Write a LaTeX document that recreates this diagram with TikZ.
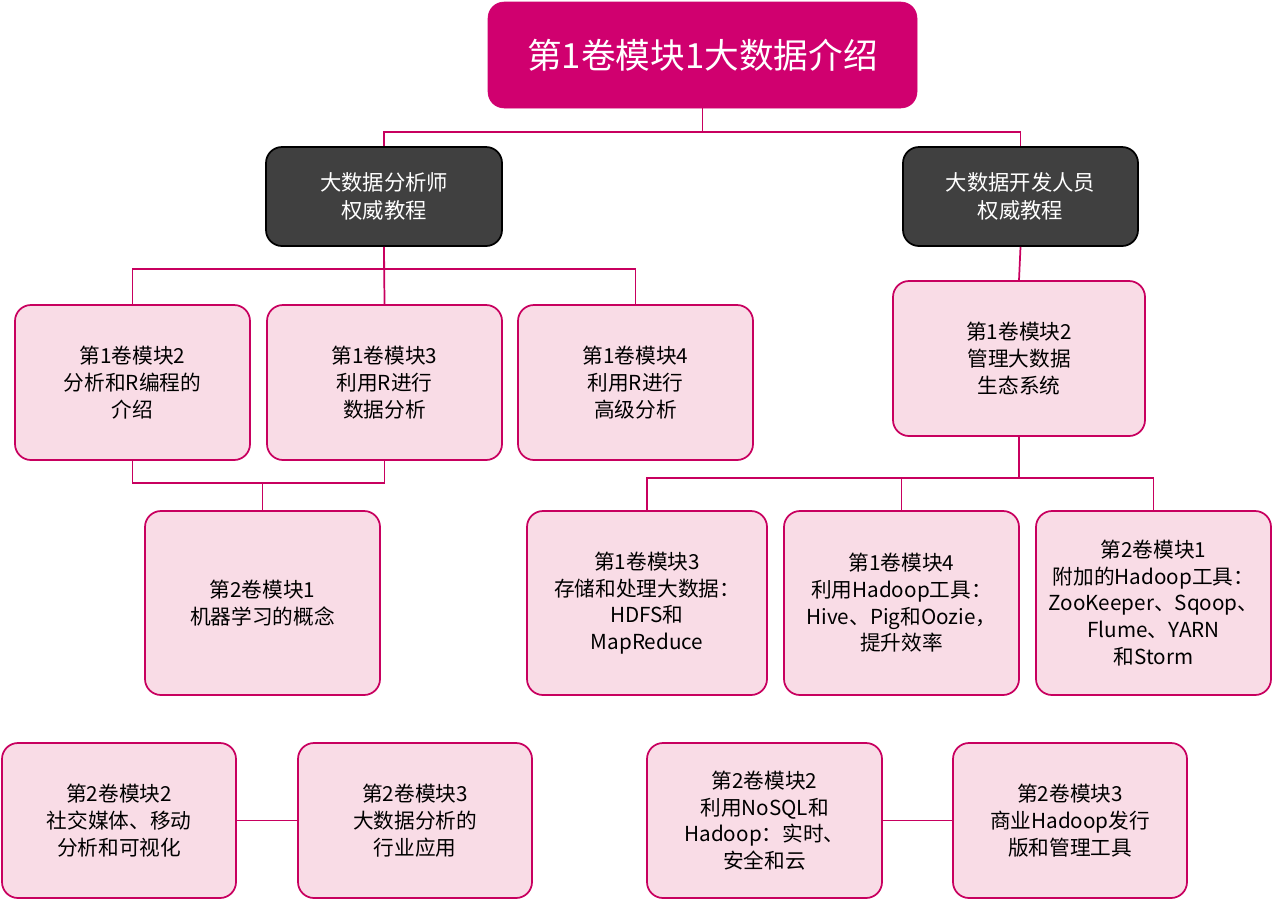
\documentclass[tikz,border=0pt]{standalone}
\usepackage{fontspec}
\setmainfont{Noto Sans CJK SC}
\begin{document}
\begin{tikzpicture}[x=0.75pt,y=-0.75pt,
  pk/.style={draw=mag,fill=pinkf,line width=1.3pt,rounded corners=12pt,align=center,font=\fontsize{15.5}{20}\selectfont,inner sep=2pt},
  dk/.style={draw=black,fill=darkf,text=white,line width=1.3pt,rounded corners=12pt,align=center,font=\fontsize{16}{21}\selectfont},
  ln/.style={draw=mag,line width=1.3pt}]
\definecolor{mag}{HTML}{C8005F}
\definecolor{pinkf}{HTML}{F9DCE6}
\definecolor{darkf}{HTML}{404040}
\definecolor{topf}{HTML}{D0006F}
\useasboundingbox (0,0) rectangle (1280,900);
\newcommand{\bx}[7]{\node[#1,minimum width=#4*0.75pt,minimum height=#5*0.75pt] (#2) at (#3) {#6};}
\node[fill=topf,draw=topf,rounded corners=12pt,text=white,minimum width=429*0.75pt,minimum height=106*0.75pt,font=\fontsize{26}{30}\selectfont] (top) at (702.5,55) {第1卷模块1大数据介绍};
\bx{dk}{A}{384,196.5}{236}{99}{大数据分析师\\权威教程}{}
\bx{dk}{B}{1020.5,196.5}{235}{99}{大数据开发人员\\权威教程}{}
\bx{pk}{m2}{132.5,382.5}{235}{155}{第1卷模块2\\分析和R编程的\\介绍}{}
\bx{pk}{m3}{384.5,382.5}{235}{155}{第1卷模块3\\利用R进行\\数据分析}{}
\bx{pk}{m4}{635.5,382.5}{235}{155}{第1卷模块4\\利用R进行\\高级分析}{}
\bx{pk}{b2}{1019,358.5}{252}{155}{第1卷模块2\\管理大数据\\生态系统}{}
\bx{pk}{ml}{262.5,603}{235}{184}{第2卷模块1\\机器学习的概念}{}
\bx{pk}{h3}{647,603}{240}{184}{第1卷模块3\\存储和处理大数据：\\HDFS和\\MapReduce}{}
\bx{pk}{h4}{901.5,603}{235}{184}{第1卷模块4\\利用Hadoop工具：\\Hive、Pig和Oozie，\\提升效率}{}
\bx{pk}{h5}{1153.5,603}{235}{184}{第2卷模块1\\附加的Hadoop工具：\\ZooKeeper、Sqoop、\\Flume、YARN\\和Storm}{}
\bx{pk}{c1}{119,820.5}{234}{155}{第2卷模块2\\社交媒体、移动\\分析和可视化}{}
\bx{pk}{c2}{415,820.5}{234}{155}{第2卷模块3\\大数据分析的\\行业应用}{}
\bx{pk}{c3}{764.5,820.5}{235}{155}{第2卷模块2\\利用NoSQL和\\Hadoop：实时、\\安全和云}{}
\bx{pk}{c4}{1070,820.5}{234}{155}{第2卷模块3\\商业Hadoop发行\\版和管理工具}{}
\draw[ln] (top.south) -- ++(0,24) -| (A.north);
\draw[ln] (top.south) ++(0,24) -| (B.north);
\draw[ln] (A.south) -- ++(0,22) -| (m2.north);
\draw[ln] (A.south) ++(0,22) -| (m4.north);
\draw[ln] (A.south) -- (m3.north);
\draw[ln] (B.south) -- (b2.north);
\draw[ln] (b2.south) -- ++(0,41) -| (h3.north);
\draw[ln] (b2.south) ++(0,41) -| (h5.north);
\draw[ln] (b2.south) ++(0,41) -| (h4.north);
\draw[ln] (m2.south) -- ++(0,22) -| (m3.south);
\draw[ln] (m2.south) ++(0,22) -| (ml.north);
\draw[ln] (c1) -- (c2);
\draw[ln] (c3) -- (c4);
\end{tikzpicture}
\end{document}
